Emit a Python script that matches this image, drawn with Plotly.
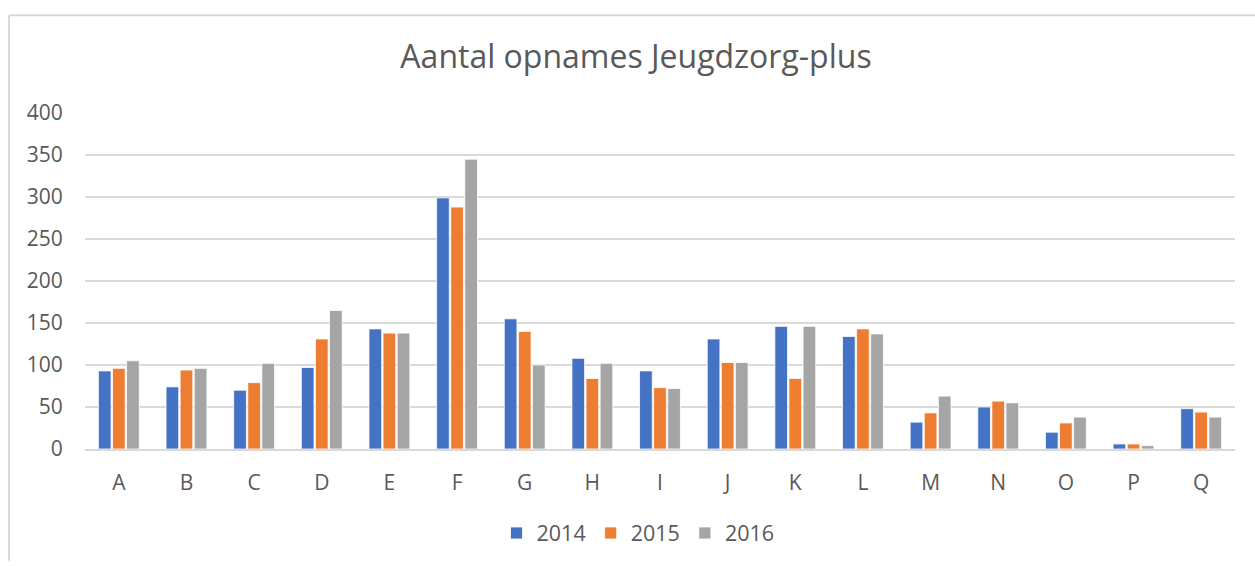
import plotly.graph_objects as go

categories = ["A", "B", "C", "D", "E", "F", "G", "H", "I", "J", "K", "L", "M", "N", "O", "P", "Q"]
years = ["2014", "2015", "2016"]
values_2014 = [93, 74, 70, 97, 143, 299, 155, 108, 93, 131, 146, 134, 32, 50, 20, 6, 48]
values_2015 = [96, 94, 79, 131, 138, 288, 140, 84, 73, 103, 84, 143, 43, 57, 31, 6, 44]
values_2016 = [105, 96, 102, 165, 138, 345, 100, 102, 72, 103, 146, 137, 63, 55, 38, 4, 38]
colors = ["#4472C4", "#ED7D31", "#A5A5A5"]

W, H = 1255, 566
L, R, T, B = 85, 20, 113, 113
pw, ph = W - L - R, H - T - B


def px_x(p):
    return (p - L) / pw


def px_y(p):
    return (H - B - p) / ph


fig = go.Figure()
for name, vals, col in zip(years, [values_2014, values_2015, values_2016], colors):
    fig.add_trace(go.Bar(
        x=categories, y=vals, name=name,
        marker=dict(color=col, line=dict(color="white", width=0.8)),
    ))

font_family = "Open Sans, Liberation Sans, sans-serif"
text_color = "#595959"

fig.update_layout(
    width=W, height=H,
    margin=dict(l=L, r=R, t=T, b=B),
    paper_bgcolor="white", plot_bgcolor="white",
    barmode="group", bargap=0.375, bargroupgap=0.1,
    title=dict(text="Aantal opnames Jeugdzorg-plus", x=636 / W, xanchor="center",
               y=1 - 57 / H, yanchor="middle",
               font=dict(family=font_family, size=32, color=text_color)),
    font=dict(family=font_family, color=text_color),
    showlegend=True,
    legend=dict(orientation="h", x=px_x(638), xanchor="center", y=px_y(538), yanchor="middle",
                font=dict(size=21.5, color=text_color), itemwidth=30,
                traceorder="normal"),
    xaxis=dict(showgrid=False, showline=True, linecolor="#D9D9D9", linewidth=2,
               ticks="outside", ticklen=14, tickcolor="rgba(0,0,0,0)",
               tickfont=dict(size=21, color=text_color), fixedrange=True),
    yaxis=dict(range=[0, 400], dtick=50, showgrid=True, gridcolor="#D9D9D9", gridwidth=1.6,
               zeroline=False, showline=False,
               ticks="outside", ticklen=17, tickcolor="rgba(0,0,0,0)",
               tickfont=dict(size=21, color=text_color), fixedrange=True),
    shapes=[
        dict(type="line", xref="paper", yref="paper",
             x0=px_x(9), x1=px_x(1255), y0=px_y(14), y1=px_y(14),
             line=dict(color="#D9D9D9", width=2)),
        dict(type="line", xref="paper", yref="paper",
             x0=px_x(9), x1=px_x(9), y0=px_y(14), y1=px_y(566),
             line=dict(color="#D9D9D9", width=2)),
    ],
)

fig.write_html("out.html", config={"displayModeBar": False},
               post_script="document.body.style.margin='0';document.body.style.overflow='hidden';")
